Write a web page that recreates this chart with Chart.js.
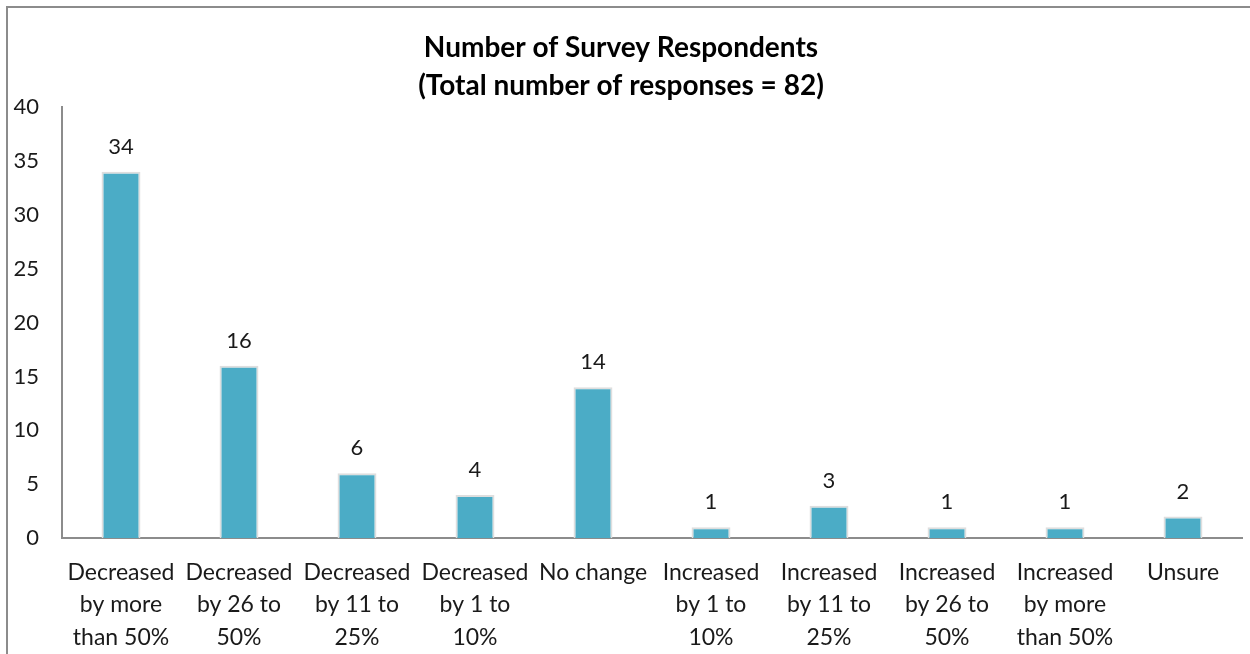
<!DOCTYPE html>
<html>
<head>
<meta charset="utf-8">
<script src="https://cdn.jsdelivr.net/npm/chart.js@4"></script>
<style>
    html, body { margin: 0; padding: 0; background: #fff; }
    #wrap { position: relative; width: 1250px; height: 654px; }
    #frame { position: absolute; left: 6px; top: 6px; width: 1260px; height: 660px;
             border-top: 2px solid #8c8c8c; border-left: 2px solid #8c8c8c; }
    canvas { position: absolute; left: 0; top: 0; }
</style>
</head>
<body>
<div id="wrap">
    <div id="frame"></div>
    <canvas id="surveyChart" width="1250" height="654"></canvas>
</div>
<script>
// Survey answers
const categories = [
    ['Decreased', 'by more', 'than 50%'],
    ['Decreased', 'by 26 to', '50%'],
    ['Decreased', 'by 11 to', '25%'],
    ['Decreased', 'by 1 to', '10%'],
    ['No change'],
    ['Increased', 'by 1 to', '10%'],
    ['Increased', 'by 11 to', '25%'],
    ['Increased', 'by 26 to', '50%'],
    ['Increased', 'by more', 'than 50%'],
    ['Unsure']
];
const respondents = [34, 16, 6, 4, 14, 1, 3, 1, 1, 2];
const titleLines = ['Number of Survey Respondents', '(Total number of responses = 82)'];
const yMin = 0;
const yMax = 40;
const yStep = 5;

const fontFamily = 'Lato, "Open Sans", sans-serif';

// value labels above bars
const valueLabels = {
    id: 'valueLabels',
    afterDatasetsDraw(chart) {
        const ctx = chart.ctx;
        const meta = chart.getDatasetMeta(0);
        ctx.save();
        ctx.font = '22px ' + fontFamily;
        ctx.fillStyle = '#1a1a1a';
        ctx.textAlign = 'center';
        ctx.textBaseline = 'bottom';
        meta.data.forEach((bar, i) => {
            ctx.fillText(String(chart.data.datasets[0].data[i]), bar.x, bar.y - 14);
        });
        ctx.restore();
    }
};

new Chart(document.getElementById('surveyChart'), {
    type: 'bar',
    data: {
        labels: categories,
        datasets: [{
            data: respondents,
            backgroundColor: '#4bacc6',
            borderColor: '#dedede',
            borderWidth: 2,
            borderSkipped: 'bottom',
            categoryPercentage: 1,
            barPercentage: 0.33
        }]
    },
    options: {
        responsive: false,
        animation: false,
        layout: { padding: { left: 0, right: 8, top: 0, bottom: 0 } },
        plugins: {
            legend: { display: false },
            tooltip: { enabled: false },
            title: {
                display: true,
                text: titleLines,
                color: '#000',
                font: { family: fontFamily, size: 28, weight: 'bold', lineHeight: 1.36 },
                padding: { top: 29, bottom: 2 }
            }
        },
        scales: {
            x: {
                grid: { display: false, drawTicks: false },
                border: { display: true, color: '#8c8c8c', width: 2 },
                ticks: {
                    color: '#1a1a1a',
                    font: { family: fontFamily, size: 23, lineHeight: 1.42 },
                    padding: 18,
                    maxRotation: 0,
                    autoSkip: false
                },
                afterFit(scale) { scale.height = 116; }
            },
            y: {
                min: yMin,
                max: yMax,
                grid: { display: false, drawTicks: false },
                border: { display: true, color: '#8c8c8c', width: 2 },
                ticks: {
                    stepSize: yStep,
                    color: '#1a1a1a',
                    font: { family: fontFamily, size: 22 },
                    padding: 23
                },
                afterFit(scale) { scale.width = 62; }
            }
        }
    },
    plugins: [valueLabels]
});
</script>
</body>
</html>
